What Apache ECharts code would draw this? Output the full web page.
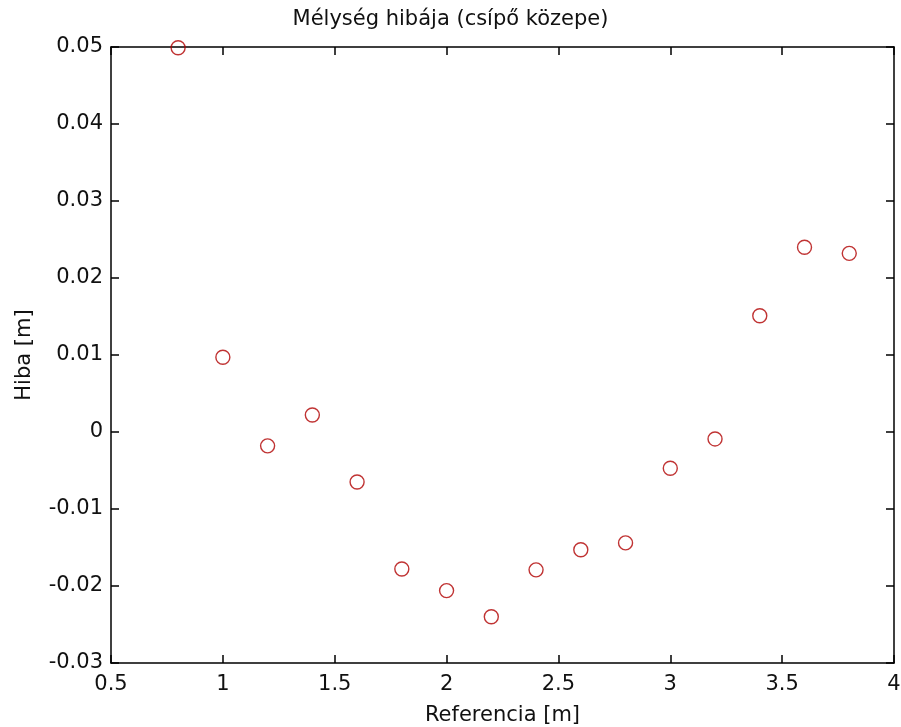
<!DOCTYPE html>
<html>
<head>
<meta charset="utf-8">
<script src="https://cdn.jsdelivr.net/npm/echarts@6/dist/echarts.min.js"></script>
<style>
html,body{margin:0;padding:0;background:#fff;}
#c{width:901px;height:727px;}
</style>
</head>
<body>
<div id="c"></div>
<script>
const xValues = [0.8, 1.0, 1.2, 1.4, 1.6, 1.8, 2.0, 2.2, 2.4, 2.6, 2.8, 3.0, 3.2, 3.4, 3.6, 3.8];
const yValues = [0.0499, 0.0097, -0.0018, 0.0022, -0.0065, -0.0178, -0.0206, -0.0240, -0.0179, -0.0153, -0.0144, -0.0047, -0.0009, 0.0151, 0.0240, 0.0232];
const titleText = 'Mélység hibája (csípő közepe)';
const xName = 'Referencia [m]';
const yName = 'Hiba [m]';

const font = 'DejaVu Sans, sans-serif';
const fs = 21;
const axisCommon = {
  axisLine: {show: true, onZero: false, lineStyle: {color: '#000', width: 1.5}},
  axisTick: {show: true, inside: true, length: 8, lineStyle: {color: '#000', width: 1.5}},
  splitLine: {show: false}
};

const chart = echarts.init(document.getElementById('c'));
chart.setOption({
  animation: false,
  backgroundColor: '#fff',
  title: {
    text: titleText, left: 'center', top: 4,
    textStyle: {fontFamily: font, fontSize: fs, fontWeight: 'normal', color: '#111'}
  },
  grid: {left: 111, right: 7, top: 47, bottom: 64, containLabel: false, outerBoundsMode: 'none'},
  xAxis: [
    Object.assign({
      type: 'value', min: 0.5, max: 4, interval: 0.5, position: 'bottom',
      name: xName, nameLocation: 'middle', nameGap: 42,
      nameTextStyle: {fontFamily: font, fontSize: fs, color: '#111'},
      axisLabel: {fontFamily: font, fontSize: fs, color: '#111', margin: 11, formatter: v => String(Math.round(v*10)/10)}
    }, axisCommon),
    Object.assign({
      type: 'value', min: 0.5, max: 4, interval: 0.5, position: 'top',
      axisLabel: {show: false}
    }, axisCommon)
  ],
  yAxis: [
    Object.assign({
      type: 'value', min: -0.03, max: 0.05, interval: 0.01, position: 'left',
      name: yName, nameLocation: 'middle', nameGap: 76, nameRotate: 90,
      nameTextStyle: {fontFamily: font, fontSize: fs, color: '#111'},
      axisLabel: {fontFamily: font, fontSize: fs, color: '#111', margin: 8, formatter: v => String(Math.round(v*100)/100)}
    }, axisCommon),
    Object.assign({
      type: 'value', min: -0.03, max: 0.05, interval: 0.01, position: 'right',
      axisLabel: {show: false}
    }, axisCommon)
  ],
  series: [{
    type: 'scatter',
    xAxisIndex: 0, yAxisIndex: 0,
    data: xValues.map((x, i) => [x, yValues[i]]),
    symbol: 'circle',
    symbolSize: 14,
    itemStyle: {color: 'transparent', borderColor: '#b00000', borderWidth: 1.4},
    clip: false
  }]
});
</script>
</body>
</html>
